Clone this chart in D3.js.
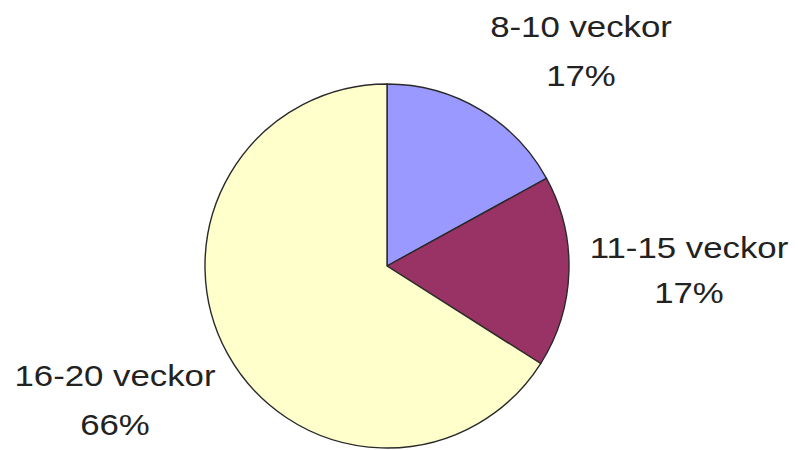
<!DOCTYPE html>
<html>
<head>
<meta charset="utf-8">
<script src="https://cdn.jsdelivr.net/npm/d3@7"></script>
<style>
  html, body { margin: 0; padding: 0; background: #ffffff; }
  svg { display: block; }
</style>
</head>
<body>
<svg id="chart" width="798" height="450"></svg>
<script>
// Share of treatment length, in weeks
const categories = ["8-10 veckor", "11-15 veckor", "16-20 veckor"];
const shares = [17, 17, 66];
const percentLabels = ["17%", "17%", "66%"];
const sliceColors = ["#9999ff", "#993366", "#ffffcc"];

const svg = d3.select("#chart");
const cx = 387, cy = 266, radius = 182;

const data = categories.map((c, i) => ({ name: c, value: shares[i], pct: percentLabels[i], color: sliceColors[i] }));

const pie = d3.pie().value(d => d.value).sort(null);
const arc = d3.arc().innerRadius(0).outerRadius(radius);

const g = svg.append("g").attr("transform", `translate(${cx},${cy})`);
g.selectAll("path")
  .data(pie(data))
  .join("path")
  .attr("d", arc)
  .attr("fill", d => d.data.color)
  .attr("stroke", "#2a2a2a")
  .attr("stroke-width", 1.4)
  .attr("stroke-linejoin", "round");

// Labels sit outside the pie, each two lines: name then percentage
const labelPos = [
  { x: 581, y1: 37, y2: 86 },
  { x: 689, y1: 258, y2: 303 },
  { x: 115, y1: 386, y2: 435 }
];
const stretch = 1.2;
const labels = svg.append("g").selectAll("g")
  .data(data)
  .join("g")
  .attr("transform", (d, i) => `translate(${labelPos[i].x},0) scale(${stretch},1)`);

labels.each(function (d, i) {
  const el = d3.select(this);
  el.append("text")
    .attr("x", 0).attr("y", labelPos[i].y1)
    .text(d.name);
  el.append("text")
    .attr("x", 0).attr("y", labelPos[i].y2)
    .text(d.pct);
});
labels.selectAll("text")
  .attr("text-anchor", "middle")
  .attr("font-family", "Liberation Sans, Arial, sans-serif")
  .attr("font-size", 29)
  .attr("fill", "#222222");
</script>
</body>
</html>
